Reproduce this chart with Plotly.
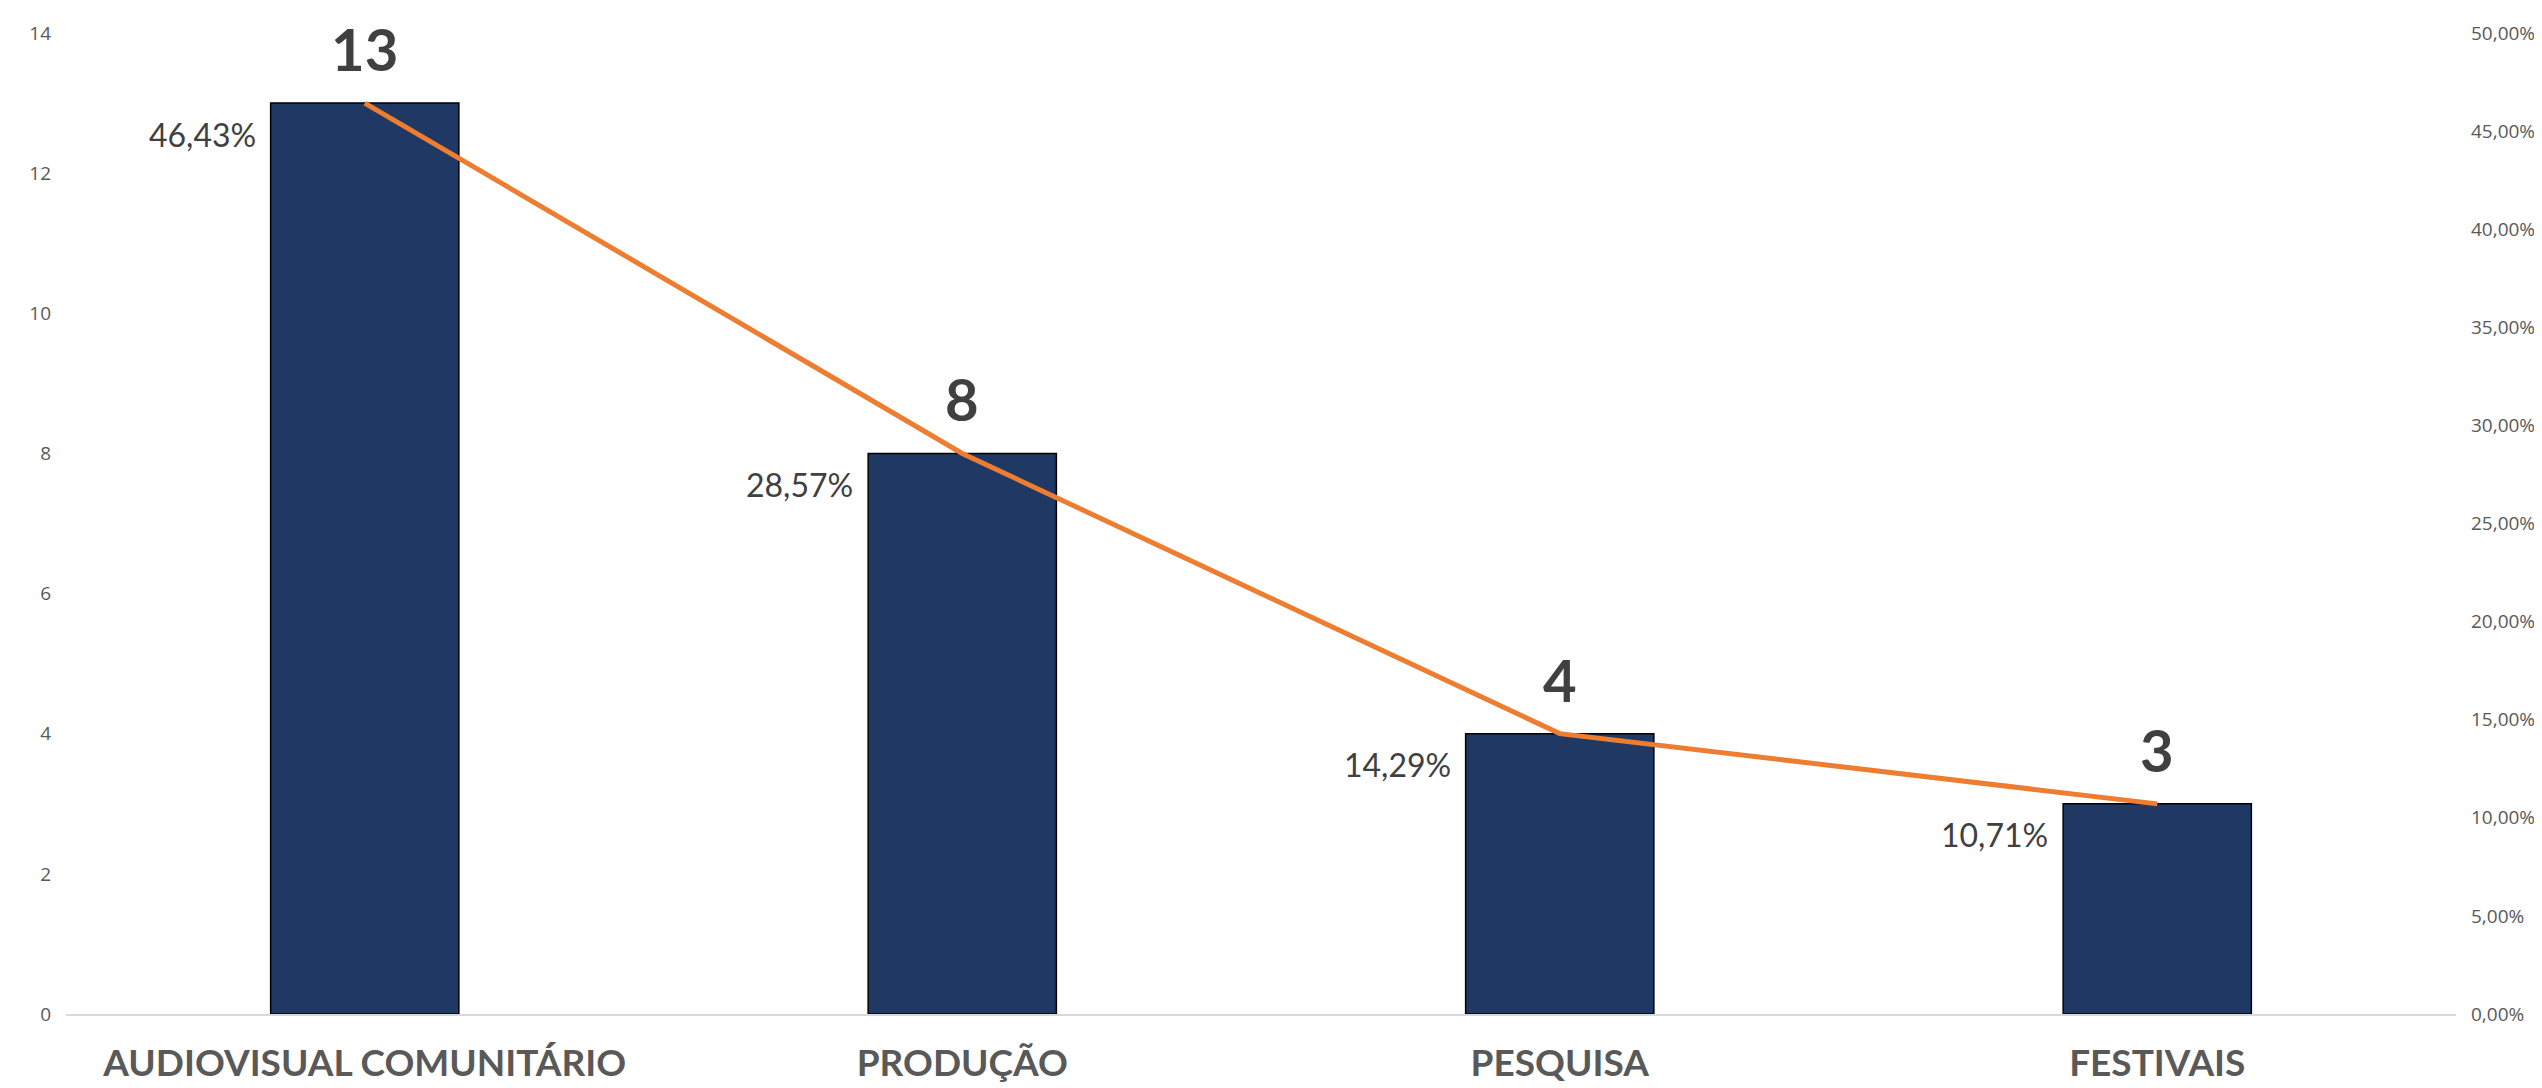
import plotly.graph_objects as go

categories = ["AUDIOVISUAL COMUNITÁRIO", "PRODUÇÃO", "PESQUISA", "FESTIVAIS"]
counts = [13, 8, 4, 3]
shares = [0.4643, 0.2857, 0.1429, 0.1071]
share_labels = ["46,43%", "28,57%", "14,29%", "10,71%"]

BAR = "#203864"
LINE = "#ED7D31"
TXT = "#404040"
TICK = "#595959"

fig = go.Figure()
fig.add_trace(go.Bar(
    x=categories, y=counts, marker=dict(color=BAR, line=dict(color="#000000", width=1.5)),
    yaxis="y", showlegend=False, hoverinfo="skip",
))
fig.add_trace(go.Scatter(
    x=categories, y=shares, mode="lines", line=dict(color=LINE, width=5),
    yaxis="y2", showlegend=False, hoverinfo="skip",
))

ann = []
for c, v in zip(categories, counts):
    ann.append(dict(x=c, y=v, xref="x", yref="y", text="<b>%d</b>" % v, showarrow=False,
                    xanchor="center", yanchor="bottom", yshift=18,
                    font=dict(family="Lato, Open Sans, sans-serif", size=58, color=TXT)))
for c, s, t in zip(categories, shares, share_labels):
    ann.append(dict(x=c, y=s, xref="x", yref="y2", text=t, showarrow=False,
                    xanchor="right", yanchor="middle", xshift=-107, yshift=-31,
                    font=dict(family="Lato, Open Sans, sans-serif", size=32, color=TXT)))

fig.update_layout(
    width=2542, height=1088,
    margin=dict(l=58, r=94, t=21, b=75),
    paper_bgcolor="white", plot_bgcolor="white",
    separators=",.",
    bargap=0.685,
    annotations=ann,
    xaxis=dict(
        showline=True, linecolor="#D9D9D9", linewidth=2, showgrid=False, ticks="",
        tickfont=dict(family="Lato, Open Sans, sans-serif", size=37, color=TICK),
        ticklabelstandoff=16,
        tickprefix="<b>", ticksuffix="</b>",
    ),
    yaxis=dict(
        range=[0, 14], dtick=2, showgrid=False, zeroline=False, showline=False,
        tickfont=dict(family="Open Sans, sans-serif", size=19, color=TICK),
        ticklabelstandoff=14,
    ),
    yaxis2=dict(
        range=[0, 0.5], dtick=0.05, overlaying="y", side="right", tickformat=".2%",
        showgrid=False, zeroline=False, showline=False,
        tickfont=dict(family="Open Sans, sans-serif", size=19, color=TICK),
        ticklabelstandoff=14,
    ),
)

fig.write_html("out.html")
